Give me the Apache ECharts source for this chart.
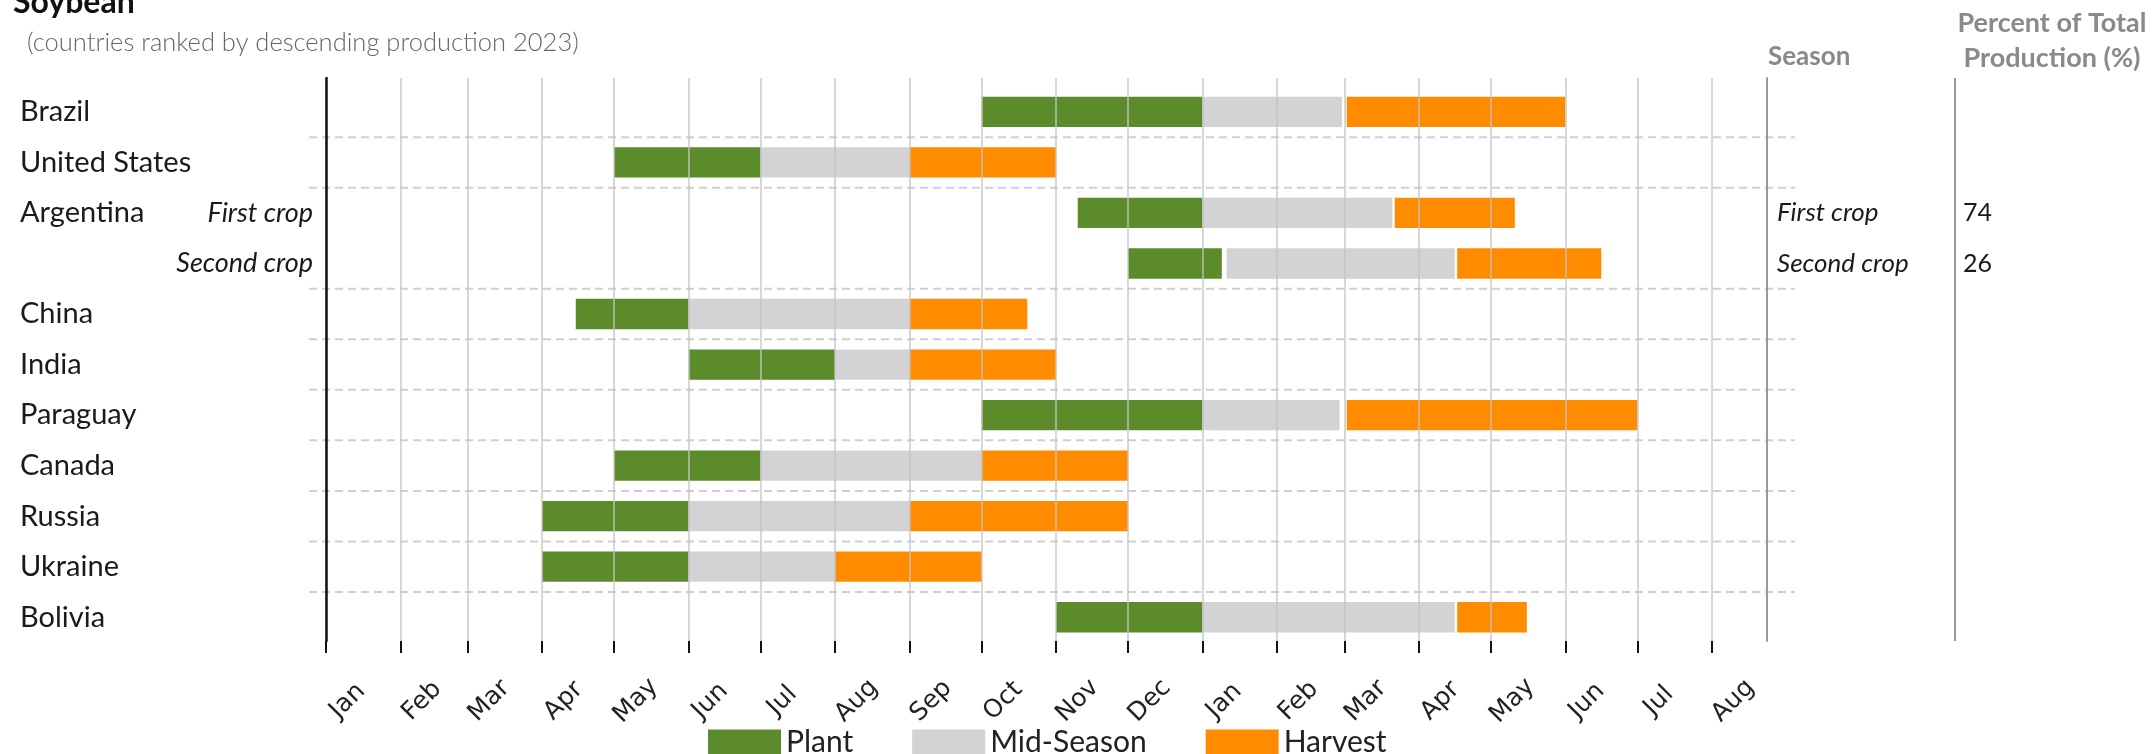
<!DOCTYPE html>
<html>
<head>
<meta charset="utf-8">
<title>Soybean crop calendar</title>
<script src="https://cdn.jsdelivr.net/npm/echarts@6/dist/echarts.min.js"></script>
<style>
  html, body { margin: 0; padding: 0; background: #fff; }
  #chart { width: 2154px; height: 754px; }
</style>
</head>
<body>
<div id="chart"></div>
<script>
// rows, top to bottom (Argentina has two crop rows)
var countries = ["Brazil", "United States", "Argentina", "", "China", "India",
  "Paraguay", "Canada", "Russia", "Ukraine", "Bolivia"];
var cropNames = ["", "", "First crop", "Second crop", "", "", "", "", "", "", ""];
var shareRows = [2, 3];
var sharePct = [74, 26];

// x axis is day count from Jan 1, running into the following year
var monthStarts = [0, 31, 59, 90, 120, 151, 181, 212, 243, 273, 304, 334,
  365, 396, 424, 455, 485, 516, 546, 577];
var monthLabels = ["Jan", "Feb", "Mar", "Apr", "May", "Jun", "Jul", "Aug", "Sep", "Oct", "Nov", "Dec",
  "Jan", "Feb", "Mar", "Apr", "May", "Jun", "Jul", "Aug"];

// [start day, end day, row]
var plant = [[273, 365, 0], [120, 181, 1], [313, 365, 2], [334, 373, 3], [104, 151, 4],
  [151, 212, 5], [273, 365, 6], [120, 181, 7], [90, 151, 8], [90, 151, 9], [304, 365, 10]];
var midSeason = [[365, 423, 0], [181, 243, 1], [365, 444, 2], [375, 470, 3], [151, 243, 4],
  [212, 243, 5], [365, 422, 6], [181, 273, 7], [151, 243, 8], [151, 212, 9], [365, 470, 10]];
var harvest = [[425, 516, 0], [243, 304, 1], [445, 495, 2], [471, 531, 3], [243, 292, 4],
  [243, 304, 5], [425, 546, 6], [273, 334, 7], [243, 334, 8], [212, 273, 9], [471, 500, 10]];

var X_MAX = 600;
var LABEL_SHIFT = 9; // rotated month names sit a little right of their tick

var rowIndex = countries.map(function (c, i) { return i; });
var labelDays = monthStarts.map(function (d) { return d + LABEL_SHIFT; });
// dashed separators between countries
var separators = [];
countries.forEach(function (c, i) {
  if (i > 0 && c !== "") separators.push([0, i - 0.5]);
});

var chart = echarts.init(document.getElementById("chart"));

function renderBar(params, api) {
  var a = api.coord([api.value(0), api.value(2)]);
  var b = api.coord([api.value(1), api.value(2)]);
  var h = api.size([0, 1])[1] * 0.6;
  return {
    type: "rect",
    shape: { x: a[0], y: a[1] - h / 2, width: b[0] - a[0], height: h },
    style: api.style()
  };
}

function renderSeparator(params, api) {
  var a = api.coord([0, api.value(1)]);
  var b = api.coord([X_MAX, api.value(1)]);
  return {
    type: "line",
    shape: { x1: a[0] - 17, y1: a[1], x2: b[0] + 28, y2: b[1] },
    style: { stroke: "#cfcfcf", lineWidth: 2, lineDash: [8, 5] }
  };
}

function phaseSeries(name, data, color) {
  return {
    name: name,
    type: "custom",
    renderItem: renderBar,
    encode: { x: [0, 1], y: 2 },
    itemStyle: { color: color },
    data: data
  };
}

chart.setOption({
  animation: false,
  grid: { left: 326, right: 387, top: 78, bottom: 113 },
  graphic: [
    { type: "text", x: 13, y: 19, style: { text: "Soybean", font: "bold 32px Lato", fill: "#111", verticalAlign: "bottom" } },
    { type: "text", x: 27, y: 43, style: { text: "(countries ranked by descending production 2023)", font: "300 25.5px Lato", fill: "#666", verticalAlign: "middle" } },
    { type: "text", x: 1768, y: 57, style: { text: "Season", font: "bold 26px Lato", fill: "#8a8a8a", verticalAlign: "middle" } },
    { type: "text", x: 2052, y: 23, style: { text: "Percent of Total", font: "bold 27px Lato", fill: "#8a8a8a", align: "center", verticalAlign: "middle" } },
    { type: "text", x: 2052, y: 58, style: { text: "Production (%)", font: "bold 27px Lato", fill: "#8a8a8a", align: "center", verticalAlign: "middle" } },
    { type: "line", shape: { x1: 1955, y1: 78, x2: 1955, y2: 641 }, style: { stroke: "#999", lineWidth: 2 } }
  ],
  legend: {
    left: 703,
    top: 722,
    icon: "rect",
    itemWidth: 73,
    itemHeight: 25,
    itemGap: 59,
    textStyle: { fontFamily: "Lato", fontSize: 30, color: "#222" },
    data: ["Plant", "Mid-Season", "Harvest"]
  },
  xAxis: {
    type: "value",
    min: 0,
    max: X_MAX,
    z: 5,
    axisLine: { show: false, onZero: false },
    axisTick: { show: true, customValues: monthStarts, length: 12, lineStyle: { color: "#111", width: 2 } },
    axisLabel: {
      customValues: labelDays,
      formatter: function (v) { return monthLabels[labelDays.indexOf(v)]; },
      rotate: 45,
      align: "center",
      verticalAlign: "middle",
      margin: 60,
      fontFamily: "DejaVu Sans",
      fontSize: 25,
      color: "#222"
    },
    splitLine: { show: true, lineStyle: { color: "rgba(195,195,195,0.9)", width: 1.5 } }
  },
  yAxis: [
    {
      type: "value",
      inverse: true,
      min: -0.67,
      max: 10.47,
      z: 6,
      axisLine: { show: true, onZero: false, lineStyle: { color: "#111", width: 2.5 } },
      axisTick: { show: false },
      splitLine: { show: false },
      axisLabel: {
        customValues: rowIndex,
        margin: 306,
        align: "left",
        formatter: function (v) {
          return "{c|" + (countries[v] || " ") + "}{s|" + (cropNames[v] || " ") + "}";
        },
        rich: {
          c: { width: 140, fontFamily: "Lato", fontSize: 29, color: "#1a1a1a" },
          s: { width: 153, align: "right", fontFamily: "Lato", fontStyle: "italic", fontSize: 27, color: "#1a1a1a" }
        }
      }
    },
    {
      type: "value",
      position: "right",
      inverse: true,
      min: -0.67,
      max: 10.47,
      z: 6,
      axisLine: { show: true, onZero: false, lineStyle: { color: "#999", width: 2 } },
      axisTick: { show: false },
      splitLine: { show: false },
      axisLabel: {
        customValues: shareRows,
        margin: 10,
        align: "left",
        formatter: function (v) {
          return "{s|" + cropNames[v] + "}{p|" + sharePct[shareRows.indexOf(v)] + "}";
        },
        rich: {
          s: { width: 186, fontFamily: "Lato", fontStyle: "italic", fontSize: 26, color: "#1a1a1a" },
          p: { fontFamily: "Lato", fontSize: 25, color: "#1a1a1a" }
        }
      }
    }
  ],
  series: [
    {
      type: "custom",
      renderItem: renderSeparator,
      encode: { x: 0, y: 1 },
      clip: false,
      silent: true,
      data: separators
    },
    phaseSeries("Plant", plant, "#5b8b2a"),
    phaseSeries("Mid-Season", midSeason, "#d3d2d5"),
    phaseSeries("Harvest", harvest, "#ff8c00")
  ]
});
</script>
</body>
</html>
